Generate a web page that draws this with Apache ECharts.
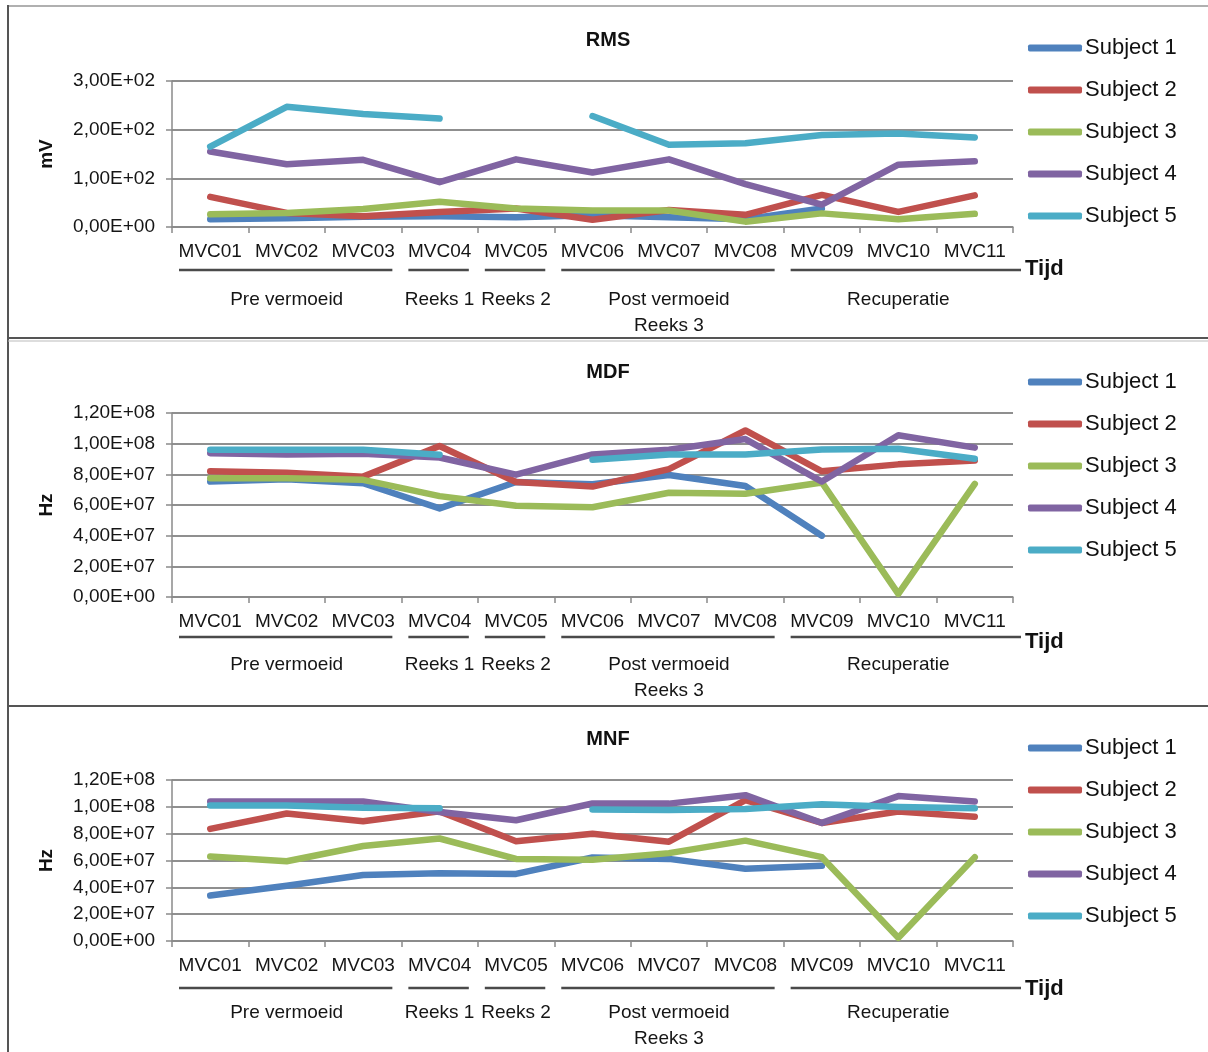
<!DOCTYPE html>
<html><head><meta charset="utf-8">
<script src="https://cdn.jsdelivr.net/npm/echarts@6/dist/echarts.min.js"></script>
<style>html,body{margin:0;padding:0;background:#fff}#c{width:1208px;height:1052px}</style>
</head><body><div id="c"></div>
<script>
// ---------- DATA ----------
const categories = ['MVC01','MVC02','MVC03','MVC04','MVC05','MVC06','MVC07','MVC08','MVC09','MVC10','MVC11'];
const groupLabels = ['', 'Pre vermoeid', '', 'Reeks 1', 'Reeks 2', '', 'Post vermoeid\nReeks 3', '', '', 'Recuperatie', ''];
const groupSpans = [[0,2],[3,3],[4,4],[5,7],[8,10]];
const subjects = ['Subject 1','Subject 2','Subject 3','Subject 4','Subject 5'];
const panelTitles = ['RMS','MDF','MNF'];
const panelUnits = ['mV','Hz','Hz'];
const xAxisName = 'Tijd';

const rmsS1 = [16, 18, 21, 22, 20, 24, 20, 16, 38, null, null];
const rmsS2 = [62, 29, 22, 31, 38, 15, 35, 25, 66, 31, 65];
const rmsS3 = [26, 29, 37, 52, 38, 34, 34, 11, 28, 16, 27];
const rmsS4 = [155, 129, 138, 92, 139, 112, 139, 88, 46, 128, 135];
const rmsS5 = [165, 247, 232, 223, null, 228, 169, 172, 189, 192, 184];

const mdfS1 = [7.53e7, 7.68e7, 7.42e7, 5.78e7, 7.5e7, 7.35e7, 7.96e7, 7.24e7, 4.0e7, null, null];
const mdfS2 = [8.2e7, 8.1e7, 7.85e7, 9.85e7, 7.5e7, 7.2e7, 8.34e7, 10.86e7, 8.2e7, 8.65e7, 8.9e7];
const mdfS3 = [7.75e7, 7.75e7, 7.64e7, 6.58e7, 5.95e7, 5.85e7, 6.8e7, 6.73e7, 7.47e7, 0.2e7, 7.38e7];
const mdfS4 = [9.38e7, 9.3e7, 9.34e7, 9.1e7, 7.98e7, 9.3e7, 9.6e7, 10.3e7, 7.53e7, 10.55e7, 9.74e7];
const mdfS5 = [9.6e7, 9.6e7, 9.6e7, 9.27e7, null, 8.95e7, 9.3e7, 9.3e7, 9.62e7, 9.67e7, 9.02e7];

const mnfS1 = [3.39e7, 4.12e7, 4.92e7, 5.05e7, 5.0e7, 6.22e7, 6.12e7, 5.39e7, 5.6e7, null, null];
const mnfS2 = [8.36e7, 9.5e7, 8.92e7, 9.66e7, 7.43e7, 8.0e7, 7.4e7, 10.5e7, 8.8e7, 9.65e7, 9.26e7];
const mnfS3 = [6.3e7, 5.94e7, 7.08e7, 7.64e7, 6.12e7, 6.05e7, 6.55e7, 7.48e7, 6.25e7, 0.24e7, 6.25e7];
const mnfS4 = [10.4e7, 10.4e7, 10.4e7, 9.62e7, 9.0e7, 10.25e7, 10.24e7, 10.87e7, 8.8e7, 10.8e7, 10.4e7];
const mnfS5 = [10.1e7, 10.1e7, 9.94e7, 9.9e7, null, 9.8e7, 9.76e7, 9.83e7, 10.2e7, 9.99e7, 9.89e7];

const yMax = [300, 1.2e8, 1.2e8];
const yInterval = [100, 2e7, 2e7];

// ---------- LAYOUT / STYLE ----------
const FONT = 'Liberation Sans, Arial, sans-serif';
const colors = ['#4F81BD','#C0504D','#9BBB59','#8064A2','#4BACC6'];
const panelData = [
  [rmsS1, rmsS2, rmsS3, rmsS4, rmsS5],
  [mdfS1, mdfS2, mdfS3, mdfS4, mdfS5],
  [mnfS1, mnfS2, mnfS3, mnfS4, mnfS5]
];
const grids = [
  {left:172, width:841, top:81, height:146},
  {left:172, width:841, top:413, height:184},
  {left:172, width:841, top:780, height:165}
];
const titleTops = [30, 362, 729];
const tijdTops = [258, 631, 978];
const legendTops = [36, 370, 736];
const groupMargins = [60, 55, 59];
const underlineOffsets = [43, 40, 43];

function fmt(v){
  if (v === 0) return '0,00E+00';
  const e = Math.floor(Math.log10(Math.abs(v)) + 1e-9);
  const m = v / Math.pow(10, e);
  return m.toFixed(2).replace('.', ',') + 'E' + (e >= 0 ? '+' : '-') + String(Math.abs(e)).padStart(2, '0');
}

const chart = echarts.init(document.getElementById('c'), null, {renderer:'canvas'});

const option = {
  animation:false,
  backgroundColor:'#fff',
  color:colors,
  textStyle:{fontFamily:FONT},
  title: [].concat(
    panelTitles.map((t,i)=>({
      text:t, left:608, top:titleTops[i], textAlign:'center', padding:0,
      textStyle:{fontFamily:FONT, fontWeight:'bold', fontSize:20, color:'#111'}
    })),
    [0,1,2].map(i=>({
      text:xAxisName, left:1025, top:tijdTops[i], padding:0,
      textStyle:{fontFamily:FONT, fontWeight:'bold', fontSize:22, color:'#111'}
    }))
  ),
  legend: [0,1,2].map(i=>({
    data:subjects, orient:'vertical', left:1028, top:legendTops[i], padding:0,
    icon:'roundRect', itemWidth:54, itemHeight:7, itemGap:18, selectedMode:false,
    textStyle:{fontFamily:FONT, fontSize:22, color:'#111', lineHeight:24, padding:[0,0,0,-2]}
  })),
  grid: grids,
  xAxis: [].concat(
    [0,1,2].map(i=>({
      type:'category', gridIndex:i, data:categories, position:'bottom', boundaryGap:true,
      axisLine:{lineStyle:{color:'#8a8a8a', width:1.5}},
      axisTick:{show:true, length:6, lineStyle:{color:'#8a8a8a', width:1.5}},
      axisLabel:{interval:0, margin:15, fontSize:19, color:'#151515', fontFamily:FONT}
    })),
    [0,1,2].map(i=>({
      type:'category', gridIndex:i, data:categories, position:'bottom', boundaryGap:true,
      axisLine:{show:false}, axisTick:{show:false},
      axisLabel:{interval:0, margin:groupMargins[i], fontSize:19, color:'#151515', lineHeight:26, fontFamily:FONT,
        formatter:(v, idx)=>groupLabels[idx]}
    }))
  ),
  yAxis: [0,1,2].map(i=>({
    type:'value', gridIndex:i, min:0, max:yMax[i], interval:yInterval[i],
    axisLine:{show:true, lineStyle:{color:'#8a8a8a', width:1.5}},
    axisTick:{show:true, length:6, lineStyle:{color:'#8a8a8a', width:1.5}},
    splitLine:{show:true, lineStyle:{color:'#8f8f8f', width:2}},
    axisLabel:{formatter:fmt, fontSize:19, color:'#151515', margin:17, fontFamily:FONT},
    name:panelUnits[i], nameLocation:'middle', nameRotate:90, nameGap:116,
    nameTextStyle:{fontFamily:FONT, fontWeight:'bold', fontSize:19, color:'#111'}
  })),
  series: []
};
for (let p=0;p<3;p++){
  for (let s=0;s<5;s++){
    option.series.push({
      type:'line', name:subjects[s], xAxisIndex:p, yAxisIndex:p,
      data:panelData[p][s], symbol:'none', connectNulls:false,
      lineStyle:{width:6.5, color:colors[s], cap:'round', join:'round'},
      itemStyle:{color:colors[s]}
    });
  }
}
chart.setOption(option);

// decorations: group underlines computed from the axis scale, panel borders
const graphics = [];
for (let p=0;p<3;p++){
  const g = grids[p];
  const bw = g.width / categories.length;
  const yLine = g.top + g.height + underlineOffsets[p];
  groupSpans.forEach((span, k)=>{
    const c0 = chart.convertToPixel({xAxisIndex:p}, categories[span[0]]);
    const c1 = chart.convertToPixel({xAxisIndex:p}, categories[span[1]]);
    const x0 = c0 - bw/2 + 7;
    const x1 = (k === groupSpans.length-1) ? c1 + bw/2 + 8 : c1 + bw/2 - 9;
    graphics.push({type:'line', shape:{x1:x0, y1:yLine, x2:x1, y2:yLine}, style:{stroke:'#4a4a4a', lineWidth:2.5}});
  });
}
// panel frames
graphics.push({type:'line', shape:{x1:8, y1:6, x2:1208, y2:6}, style:{stroke:'#b0b0b0', lineWidth:2}});
graphics.push({type:'line', shape:{x1:8, y1:5, x2:8, y2:1052}, style:{stroke:'#555', lineWidth:2}});
graphics.push({type:'line', shape:{x1:8, y1:338, x2:1208, y2:338}, style:{stroke:'#555', lineWidth:2}});
graphics.push({type:'line', shape:{x1:8, y1:341, x2:1208, y2:341}, style:{stroke:'#bbb', lineWidth:1}});
graphics.push({type:'line', shape:{x1:8, y1:706, x2:1208, y2:706}, style:{stroke:'#555', lineWidth:2}});
chart.setOption({graphic:graphics});
</script>
</body></html>
